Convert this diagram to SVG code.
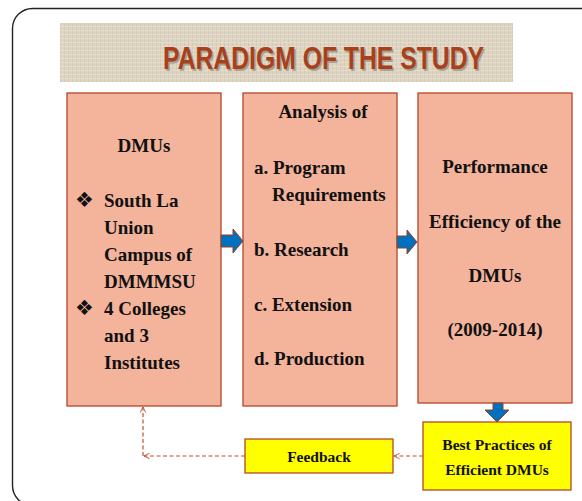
<svg xmlns="http://www.w3.org/2000/svg" width="582" height="501" viewBox="0 0 582 501">
<defs>
<pattern id="linen" width="4" height="4" patternUnits="userSpaceOnUse">
<rect width="4" height="4" fill="#ddd4c2"/>
<rect x="0" y="0" width="1" height="4" fill="#cfc5b1" opacity="0.7"/>
<rect x="0" y="2" width="4" height="1" fill="#e6dfd0" opacity="0.8"/>
</pattern>
<marker id="open" viewBox="0 0 10 10" refX="9" refY="5" markerWidth="7" markerHeight="7" orient="auto" markerUnits="userSpaceOnUse">
<path d="M1,1 L9,5 L1,9" fill="none" stroke="#c0502a" stroke-width="1.3"/>
</marker>
</defs>
<style>
.box{fill:#f4b39b;stroke:#b5482a;stroke-width:1.3}
.yel{fill:#ffff00;stroke:#b5482a;stroke-width:1.3}
.t{font-family:"Liberation Serif",serif;font-weight:bold;font-size:19px;fill:#111}
.b{font-family:"DejaVu Sans",sans-serif;font-size:21px;fill:#111}
.s{font-family:"Liberation Serif",serif;font-weight:bold;font-size:15.5px;fill:#111}
.c{text-anchor:middle}
.blk{fill:#0070c0;stroke:#a0401a;stroke-width:1}
.dash{fill:none;stroke:#c0502a;stroke-width:1.2;stroke-dasharray:4 2.5}
</style>
<rect x="0" y="0" width="582" height="501" fill="#fff"/>
<rect x="12.5" y="8.5" width="600" height="497" rx="20" fill="none" stroke="#222" stroke-width="1.4"/>
<g id="title">
<rect x="60" y="23" width="453" height="59" fill="url(#linen)"/>
<text x="325" y="70.5" font-family="Liberation Sans,Arial,sans-serif" font-size="32" font-weight="bold" fill="#8a8070" opacity="0.6" text-anchor="middle" textLength="321" lengthAdjust="spacingAndGlyphs">PARADIGM OF THE STUDY</text>
<text x="323.5" y="69" font-family="Liberation Sans,Arial,sans-serif" font-size="32" font-weight="bold" fill="#a8401c" text-anchor="middle" textLength="321" lengthAdjust="spacingAndGlyphs">PARADIGM OF THE STUDY</text>
</g>
<g id="dmus">
<rect class="box" x="67" y="93" width="154" height="313"/>
<text class="t c" x="144" y="152">DMUs</text>
<text class="b" x="75" y="207">❖</text>
<text class="t" x="104" y="207">South La</text>
<text class="t" x="104" y="234">Union</text>
<text class="t" x="104" y="261">Campus of</text>
<text class="t" x="104" y="288">DMMMSU</text>
<text class="b" x="75" y="315">❖</text>
<text class="t" x="104" y="315">4 Colleges</text>
<text class="t" x="104" y="342">and 3</text>
<text class="t" x="104" y="369">Institutes</text>
</g>
<g id="analysis">
<rect class="box" x="243" y="93" width="154" height="313"/>
<text class="t c" x="323" y="118">Analysis of</text>
<text class="t" x="254" y="174">a. Program</text>
<text class="t" x="272" y="201">Requirements</text>
<text class="t" x="254" y="256">b. Research</text>
<text class="t" x="254" y="311">c. Extension</text>
<text class="t" x="254" y="365">d. Production</text>
</g>
<g id="performance">
<rect class="box" x="418" y="93" width="154" height="310"/>
<text class="t c" x="495" y="173">Performance</text>
<text class="t c" x="495" y="228">Efficiency of the</text>
<text class="t c" x="495" y="282">DMUs</text>
<text class="t c" x="495" y="336">(2009-2014)</text>
</g>
<g id="bestpractices">
<rect class="yel" x="423" y="422" width="148" height="68"/>
<text class="s c" x="497" y="450">Best Practices of</text>
<text class="s c" x="497" y="475">Efficient DMUs</text>
</g>
<g id="feedback">
<rect class="yel" x="245" y="439" width="148" height="34"/>
<text class="s c" x="319" y="462">Feedback</text>
</g>
<g id="connectors">
<path class="blk" d="M221,235 H233 V229 L243,241 L233,253 V247 H221 Z"/>
<path class="blk" d="M397,236 H407 V230 L417,242 L407,254 V248 H397 Z"/>
<path class="blk" d="M493,403 H503 V410 H509 L497,422 L485,410 H493 Z"/>
<path class="dash" d="M423,456 H394" marker-end="url(#open)"/>
<path class="dash" d="M245,456 H144" marker-end="url(#open)"/>
<path class="dash" d="M143,456 V407" marker-end="url(#open)"/>
</g>
</svg>
